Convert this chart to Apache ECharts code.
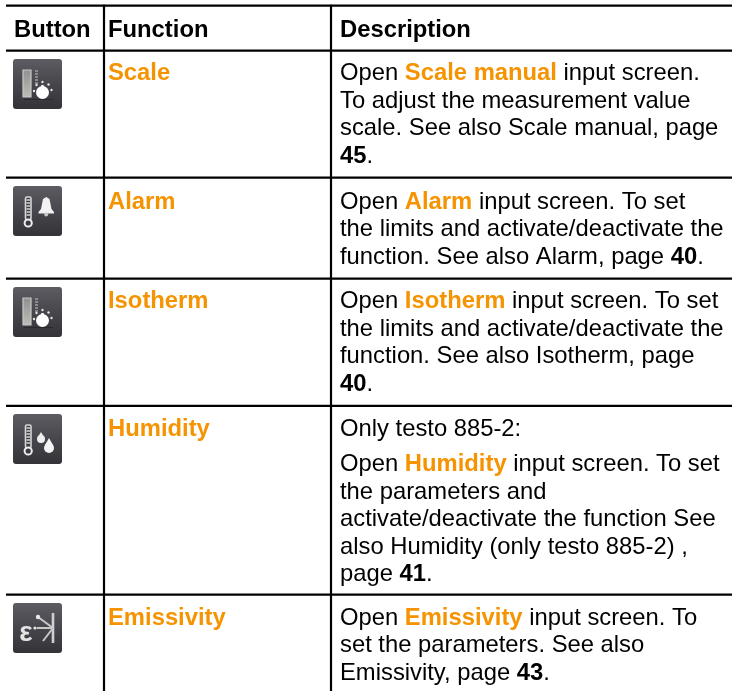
<!DOCTYPE html>
<html>
<head>
<meta charset="utf-8">
<title>Button table</title>
<style>
html, body { margin: 0; padding: 0; background: #fff; }
#main { width: 732px; height: 691px; }
</style>
<script src="https://cdn.jsdelivr.net/npm/echarts@6/dist/echarts.min.js"></script>
</head>
<body>
<div id="main"></div>
<script>
// table content. {o|..} is the orange bold run, {b|..} the black bold run
var headers = ['Button', 'Function', 'Description'];
var functions = ['Scale', 'Alarm', 'Isotherm', 'Humidity', 'Emissivity'];
var icons = ['dial', 'bell', 'dial', 'drops', 'emissivity'];
var descScale = ['Open {o|Scale manual} input screen.', 'To adjust the measurement value', 'scale. See also Scale manual, page', '{b|45}.'];
var descAlarm = ['Open {o|Alarm} input screen. To set', 'the limits and activate/deactivate the', 'function. See also Alarm, page {b|40}.'];
var descIsotherm = ['Open {o|Isotherm} input screen. To set', 'the limits and activate/deactivate the', 'function. See also Isotherm, page', '{b|40}.'];
var descHumidity = ['Only testo 885-2:', 'Open {o|Humidity} input screen. To set', 'the parameters and', 'activate/deactivate the function See', 'also Humidity (only testo 885-2) ,', 'page {b|41}.'];
var descEmissivity = ['Open {o|Emissivity} input screen. To', 'set the parameters. See also', 'Emissivity, page {b|43}.'];
var descriptions = [descScale, descAlarm, descIsotherm, descHumidity, descEmissivity];

var FONT = '"Liberation Sans", Arial, sans-serif';
var ORANGE = '#f59300';
var SIZE = 23.8;
var PITCH = 27.5;

// layout of the table
var ruleY = [5.7, 50.7, 177.7, 278.7, 405.8, 594.7];
var colX = [104, 331];
var cellX = [14, 108, 340];
var iconTop = [59, 186, 287, 414, 603];
var baseFirst = [80.3, 209, 308.3, 436.3, 625];

function textEl(x, baseline, str, size, weight, color) {
    return {
        type: 'text',
        x: x,
        y: baseline - size * 0.28,
        silent: true,
        style: {
            text: str,
            fill: color || '#000',
            fontFamily: FONT,
            fontSize: size,
            fontWeight: weight || 'normal',
            verticalAlign: 'middle',
            align: 'left',
            rich: {
                o: { fill: ORANGE, fontFamily: FONT, fontSize: size, fontWeight: 'bold' },
                b: { fill: '#000', fontFamily: FONT, fontSize: size, fontWeight: 'bold' }
            }
        }
    };
}

function line(x1, y1, x2, y2, w, color) {
    return { type: 'line', shape: { x1: x1, y1: y1, x2: x2, y2: y2 }, style: { stroke: color, lineWidth: w } };
}
function dot(x, y, r, color) {
    return { type: 'circle', shape: { cx: x, cy: y, r: r }, style: { fill: color } };
}

function thermometer() {
    var out = [
        { type: 'rect', shape: { x: 12.5, y: 11, width: 5.5, height: 23, r: 1.5 }, style: { fill: '#3c3c42', stroke: '#d8d8d8', lineWidth: 1.6 } },
        { type: 'circle', shape: { cx: 15.2, cy: 37, r: 3.6 }, style: { fill: '#3a3a40', stroke: '#eeeeee', lineWidth: 2 } }
    ];
    [14, 17, 20, 23, 26, 29].forEach(function (y) {
        out.push(line(13.5, y, 17, y, 1.4, '#e2e2e2'));
    });
    return out;
}

function iconParts(kind) {
    var out = [];
    if (kind === 'dial') {
        out.push({
            type: 'rect', shape: { x: 10, y: 11, width: 8, height: 27 },
            style: {
                fill: new echarts.graphic.LinearGradient(0, 0, 0, 1, [
                    { offset: 0, color: '#8f8f8f' }, { offset: 1, color: '#bdbdb8' }
                ]),
                stroke: '#c8c8c8', lineWidth: 1.2
            }
        });
        [12, 15, 18, 21, 24].forEach(function (y) {
            out.push(line(22, y, 25, y, 1.2, '#b4b4b4'));
        });
        out.push(dot(29.5, 33.5, 6.5, '#ffffff'));
        out.push(line(29.5, 33, 29.5, 26, 2.5, '#ffffff'));
        [[21, 32], [23.5, 26], [29.5, 23], [35.5, 25.5], [38.5, 31]].forEach(function (p) {
            out.push(dot(p[0], p[1], 1.2, '#e6e6e6'));
        });
        out.push(line(11, 40.5, 40, 40.5, 1, '#2a2a2e'));
    } else if (kind === 'bell') {
        out = out.concat(thermometer());
        out.push({
            type: 'polygon',
            shape: { points: [[33.2, 11], [36.5, 13], [37.5, 18], [38.5, 23], [41, 26], [41, 27.5], [25.5, 27.5], [25.5, 26], [28, 23], [29, 18], [30, 13]] },
            style: { fill: '#f2f2f2' }
        });
        out.push(dot(33.2, 28.5, 2, '#c8c8c8'));
    } else if (kind === 'drops') {
        out = out.concat(thermometer());
        out.push({ type: 'polygon', shape: { points: [[28, 18], [31, 23], [24.9, 23]] }, style: { fill: '#eeeeee' } });
        out.push(dot(28, 25, 4, '#eeeeee'));
        out.push({ type: 'polygon', shape: { points: [[36, 24], [40, 31], [32, 31]] }, style: { fill: '#f4f4f4' } });
        out.push(dot(36, 34, 5, '#f4f4f4'));
    } else {
        out.push(line(40, 10, 40, 40, 2.6, '#d0d0d0'));
        out.push(line(40, 25, 25, 14, 2, '#c8c8c8'));
        out.push(line(40, 25, 24, 25, 2, '#c8c8c8'));
        out.push(line(40, 25, 30, 38, 2, '#c8c8c8'));
        out.push(dot(25, 14, 2.2, '#e8e8e8'));
        out.push(dot(22, 25, 1.6, '#e8e8e8'));
        out.push({
            type: 'text', x: 13, y: 30,
            style: { text: 'ε', fill: '#e4e4e4', fontFamily: FONT, fontSize: 28, fontWeight: 'bold', align: 'center', verticalAlign: 'middle' }
        });
    }
    return out;
}

function iconEl(kind, top) {
    return {
        type: 'group',
        x: 13,
        y: top,
        silent: true,
        children: [{
            type: 'rect',
            shape: { x: 0, y: 0, width: 49, height: 50, r: 3 },
            style: {
                fill: new echarts.graphic.LinearGradient(0, 0, 0, 1, [
                    { offset: 0, color: '#5c5c62' },
                    { offset: 0.55, color: '#44444a' },
                    { offset: 1, color: '#333338' }
                ])
            }
        }].concat(iconParts(kind))
    };
}

var elements = [];

// rules
ruleY.forEach(function (y) {
    elements.push(line(6, y, 732, y, 2.2, '#000'));
});
colX.forEach(function (x) {
    elements.push(line(x, 4.7, x, 691, 2.2, '#000'));
});

headers.forEach(function (h, i) {
    elements.push(textEl(cellX[i], 37, h, SIZE, 'bold'));
});

functions.forEach(function (name, r) {
    elements.push(iconEl(icons[r], iconTop[r]));
    elements.push(textEl(cellX[1], baseFirst[r], name, SIZE, 'bold', ORANGE));
    descriptions[r].forEach(function (str, k) {
        // humidity row has a paragraph gap after its first line
        var gap = (r === 3 && k > 0) ? 7.5 : 0;
        elements.push(textEl(cellX[2], baseFirst[r] + k * PITCH + gap, str, SIZE));
    });
});

var chart = echarts.init(document.getElementById('main'), null, { renderer: 'canvas' });
chart.setOption({
    backgroundColor: '#ffffff',
    animation: false,
    graphic: { elements: elements }
});
</script>
</body>
</html>
